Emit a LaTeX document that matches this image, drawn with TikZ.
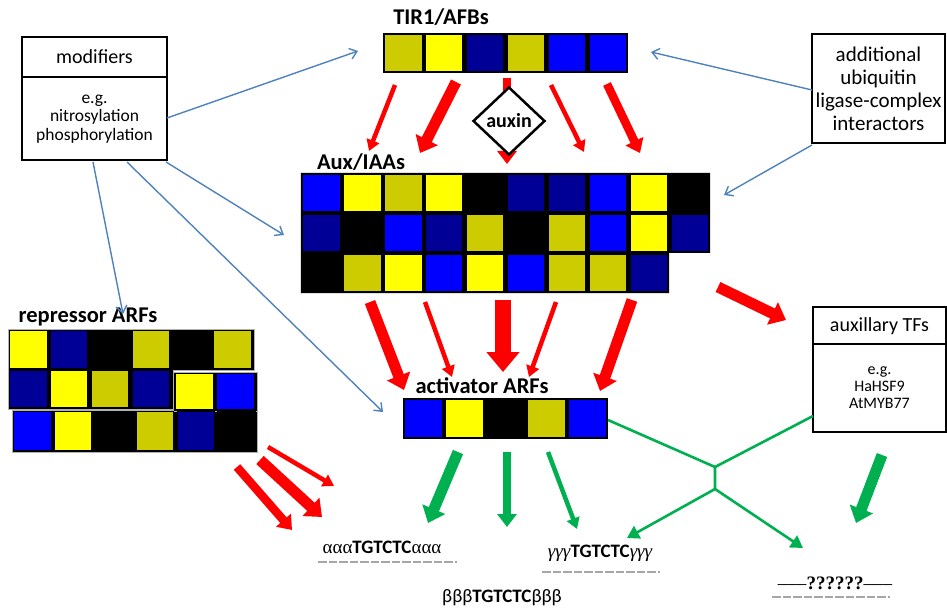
\documentclass[tikz,border=0pt]{standalone}
\usepackage{fontspec}
\setmainfont{Carlito}
\newfontfamily\grkserif{Liberation Serif}
\usetikzlibrary{arrows.meta,shapes.geometric}

\definecolor{yel}{HTML}{FFFF00}
\definecolor{olv}{HTML}{CCCC00}
\definecolor{nav}{HTML}{000096}
\definecolor{blu}{HTML}{0000FF}
\definecolor{linkblue}{HTML}{4F81BD}
\definecolor{grn}{HTML}{00B050}
\definecolor{rd}{HTML}{FF0000}

% one row of coloured domain squares: x0, top, pitch, height, colours
\newcommand\cellrow[5]{%
  \foreach \c [count=\i from 0] in {#5} {
    \filldraw[fill=\c, draw=black, line width=0.8pt]
      ({#1+\i*#3+1.8},{#2+1.8}) rectangle ++({#3-3.6},{#4-3.6});
  }}

\begin{document}
\begin{tikzpicture}[x=1pt,y=-1pt,
  heading/.style={font=\bfseries\fontsize{22.5}{24}\selectfont, inner sep=0pt},
  boxtitle/.style={font=\fontsize{20}{22}\selectfont, inner sep=0pt},
  boxbody/.style={font=\fontsize{16}{17}\selectfont, inner sep=0pt, align=center},
  frame/.style={draw=black, line width=2.5pt, fill=white},
  link/.style={draw=linkblue, line width=1.4pt, -{Straight Barb[length=7pt,width=11pt]}},
  arrSlim/.style={line width=4.5pt, -{Triangle[length=11pt,width=13pt]}},
  arrMid/.style={line width=8.5pt, -{Triangle[length=13pt,width=19pt]}},
  arrFat/.style={line width=11pt, -{Triangle[length=15pt,width=24pt]}},
  arrHuge/.style={line width=16pt, -{Triangle[length=20pt,width=32pt]}},
  gline/.style={draw=grn, line width=2.6pt},
  garrow/.style={draw=grn, line width=2.6pt, -{Triangle[length=12pt,width=14pt]}},
  seq/.style={inner sep=0pt, font=\fontsize{19}{21}\selectfont},
  underdash/.style={draw=gray!70, line width=1.3pt, dash pattern=on 8.5pt off 2pt}
]
\useasboundingbox (0,0) rectangle (947,612);

% ---------- TIR1/AFBs ----------
\node[heading] (tirlab) at (441,17) {TIR1/AFBs};
\node[fill=black, inner sep=0pt, minimum width=245pt, minimum height=40pt] (tir) at (505.5,53) {};
\cellrow{383}{33}{40.83}{40}{olv,yel,nav,olv,blu,blu}

% ---------- Aux/IAAs ----------
\node[heading] (auxlab) at (361,162) {Aux/IAAs};
\node[inner sep=0pt, minimum width=409pt, minimum height=120pt] (aux) at (505.5,233) {};
\fill[black] (aux.north west) -- (aux.north east) -- (710,253) -- (669,253) -- (669,293) -- (aux.south west) -- cycle;
\cellrow{301}{173}{40.9}{40}{blu,yel,olv,yel,black,nav,nav,blu,yel,black}
\cellrow{301}{213}{40.9}{40}{nav,black,blu,nav,olv,black,olv,blu,yel,nav}
\cellrow{301}{253}{40.9}{40}{black,olv,yel,blu,yel,blu,olv,olv,nav}

% ---------- repressor ARFs ----------
\node[heading] (replab) at (88,317) {repressor ARFs};
\filldraw[fill=black, draw=gray!60, line width=0.8pt] (12,410) rectangle (257,452);
\filldraw[fill=black, draw=gray!60, line width=0.8pt]
  (8,329) -- (254,329) -- (254,370) -- (173,370) -- (173,409) -- (8,409) -- cycle;
\filldraw[fill=black, draw=gray!60, line width=0.8pt] (173,372) rectangle (257,411);
\cellrow{8}{329}{40.8}{41}{yel,nav,black,olv,black,olv}
\cellrow{8}{369}{40.8}{40}{nav,yel,olv,nav}
\cellrow{174}{372}{41}{39}{yel,blu}
\cellrow{12}{410}{40.8}{42}{blu,yel,black,olv,nav,black}

% ---------- activator ARFs ----------
\node[heading] (actlab) at (482,386) {activator ARFs};
\node[fill=black, inner sep=0pt, minimum width=205pt, minimum height=41pt] (act) at (505.5,418.5) {};
\cellrow{403}{398}{41}{41}{blu,yel,black,olv,blu}

% ---------- boxes ----------
\draw[frame] (22,37) rectangle (167,160);
\draw[line width=2.5pt] (22,77) -- (167,77);
\node[boxtitle] (modt) at (94.5,57) {modifiers};
\node[boxbody, font=\fontsize{17.5}{18.5}\selectfont] (mod) at (94.5,119) {e.g.\\nitrosylation\\phosphorylation};
\coordinate (modR) at (167,118);
\coordinate (modB1) at (93,162);
\coordinate (modB2) at (127,162);
\coordinate (modB3) at (166,162);

\draw[frame] (812,34) rectangle (945,143);
\node[boxbody, font=\fontsize{21}{23}\selectfont] (ubi) at (878.5,89) {additional\\ubiquitin\\ligase-complex\\interactors};
\coordinate (ubiL) at (812,90);
\coordinate (ubiB) at (812,145);

\draw[frame] (813,307) rectangle (946,432);
\draw[line width=2.5pt] (813,344) -- (946,344);
\node[boxtitle] (tft) at (879.5,326) {auxillary TFs};
\node[boxbody] (tf) at (879.5,388) {e.g.\\HaHSF9\\AtMYB77};
\coordinate (tfL) at (813,416);
\coordinate (tfB) at (882,455);

% ---------- blue links from the side boxes ----------
\coordinate (tirL) at (358,51);
\coordinate (tirR) at (651,52);
\coordinate (auxL) at (284,235);
\coordinate (auxR) at (724,195);
\coordinate (repT) at (123,314);
\coordinate (actL) at (383,412);
\draw[link] (modR) -- (tirL);
\draw[link] (modB3) -- (auxL);
\draw[link] (modB1) -- (repT);
\draw[link] (modB2) -- (actL);
\draw[link] (ubiL) -- (tirR);
\draw[link] (ubiB) -- (auxR);

% ---------- red arrows TIR1/AFBs -> Aux/IAAs ----------
\coordinate (ta1) at (395,85);  \coordinate (tb1) at (369,151);
\coordinate (ta2) at (456,82);  \coordinate (tb2) at (420,153);
\coordinate (ta3) at (507,78);  \coordinate (tb3) at (507,164);
\coordinate (ta4) at (551,85);  \coordinate (tb4) at (584,152);
\coordinate (ta5) at (607,84);  \coordinate (tb5) at (640,153);
\draw[rd, arrSlim] (ta1) -- (tb1);
\draw[rd, arrFat]  (ta2) -- (tb2);
\draw[rd, arrMid]  (ta3) -- (tb3);
\draw[rd, arrSlim] (ta4) -- (tb4);
\draw[rd, arrMid]  (ta5) -- (tb5);

% auxin
\node[diamond, draw=black, line width=2.5pt, fill=white, minimum width=72pt, minimum height=68pt,
      inner sep=0pt, font=\bfseries\fontsize{20}{22}\selectfont] (auxin) at (509,121) {auxin};

% ---------- red arrows Aux/IAAs -> activator ARFs ----------
\coordinate (aa1) at (370,302); \coordinate (ab1) at (404,390);
\coordinate (aa2) at (425,302); \coordinate (ab2) at (452,377);
\coordinate (aa3) at (503,300); \coordinate (ab3) at (503,372);
\coordinate (aa4) at (556,302); \coordinate (ab4) at (529,377);
\coordinate (aa5) at (632,300); \coordinate (ab5) at (600,391);
\draw[rd, arrFat]  (aa1) -- (ab1);
\draw[rd, arrSlim] (aa2) -- (ab2);
\draw[rd, arrHuge] (aa3) -- (ab3);
\draw[rd, arrSlim] (aa4) -- (ab4);
\draw[rd, arrFat]  (aa5) -- (ab5);
\coordinate (ax1) at (718,287); \coordinate (ax2) at (786,320);
\draw[rd, arrFat] (ax1) -- (ax2);

% ---------- red arrows from repressor ARFs ----------
\coordinate (ra1) at (237,467); \coordinate (rb1) at (292,530);
\coordinate (ra2) at (260,460); \coordinate (rb2) at (322,517);
\coordinate (ra3) at (268,447); \coordinate (rb3) at (334,486);
\draw[rd, arrMid]  (ra1) -- (rb1);
\draw[rd, arrFat]  (ra2) -- (rb2);
\draw[rd, arrSlim] (ra3) -- (rb3);

% ---------- target sequences ----------
\node[seq] (sa) at (382,547) {{\grkserif ααα}\textbf{TGTCTC}{\grkserif ααα}};
\draw[underdash] (318,562) -- (457,562);
\node[seq] (sg) at (600,553) {{\grkserif\itshape γγγ}\textbf{TGTCTC}{\grkserif\itshape γγγ}};
\draw[underdash] (542,572) -- (660,572);
\node[seq] (sb) at (502,598) {βββ\textbf{TGTCTC}βββ};
\node[seq] (sq) at (835,583) {{\grkserif –––\textbf{??????}–––}};
\draw[underdash] (772,597) -- (890,597);

% ---------- green arrows ----------
\coordinate (ga1) at (458,452); \coordinate (gb1) at (428,523);
\coordinate (ga2) at (507,452); \coordinate (gb2) at (507,527);
\coordinate (ga3) at (548,452); \coordinate (gb3) at (577,529);
\draw[grn, arrFat]  (ga1) -- (gb1);
\draw[grn, arrMid]  (ga2) -- (gb2);
\draw[grn, arrSlim] (ga3) -- (gb3);
\coordinate (gt) at (856,523);
\draw[grn, arrFat] (tfB) -- (gt);

\coordinate (actR) at (608,420);
\coordinate (j1) at (715,467);
\coordinate (j2) at (715,489);
\coordinate (gy) at (627,538);
\coordinate (gq) at (803,548);
\draw[gline] (actR) -- (j1) -- (j2);
\draw[gline] (tfL) -- (j1);
\draw[garrow] (j2) -- (gy);
\draw[garrow] (j2) -- (gq);
\end{tikzpicture}
\end{document}
